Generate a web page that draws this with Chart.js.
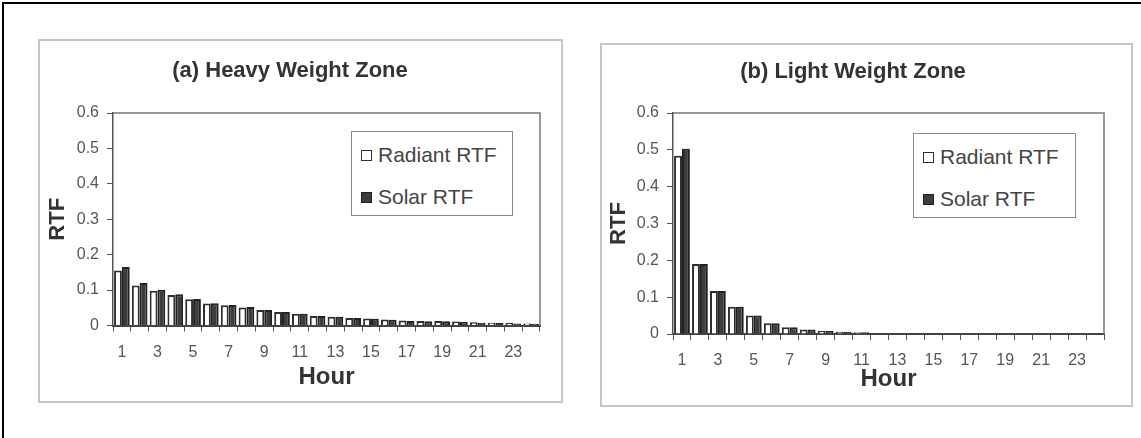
<!DOCTYPE html>
<html lang="en">
<head>
<meta charset="UTF-8">
<title>Radiant Time Factors</title>
<script src="https://cdn.jsdelivr.net/npm/chart.js"></script>
<style>
  html, body { margin: 0; padding: 0; background: #fff; }
  body { width: 1141px; height: 438px; position: relative; overflow: hidden; font-family: 'Liberation Sans', Arial, sans-serif; }
  .frame { position: absolute; left: 2px; top: 2px; right: 0; bottom: 0; border-top: 2px solid #000; border-left: 2px solid #000; }
  .panel { position: absolute; border: 2px solid #c6c6c6; background: #fff; }
  .panel canvas { display: block; }
  .legend { position: absolute; border: 1.5px solid #8a8a8a; background: #fff; box-sizing: border-box; }
  .legend .item { position: absolute; left: 9px; display: flex; align-items: center; font-size: 21px; color: #444; height: 24px; margin-top: -12px; white-space: nowrap; }
  .legend .swatch { width: 11px; height: 11px; box-sizing: border-box; border: 1.5px solid #333; margin-right: 6px; }
</style>
</head>
<body>
<div class="frame"></div>

<div class="panel" style="left:38px; top:39px;">
  <canvas id="heavyChart" width="521" height="360"></canvas>
  <div class="legend" id="heavyLegend" style="left:311px; top:90px; width:162px; height:85px;"></div>
</div>

<div class="panel" style="left:600px; top:43px;">
  <canvas id="lightChart" width="529" height="360"></canvas>
  <div class="legend" id="lightLegend" style="left:311px; top:88px; width:163px; height:85px;"></div>
</div>

<script>
// Hours after the heat gain
const hours = ['1', '2', '3', '4', '5', '6', '7', '8', '9', '10', '11', '12',
               '13', '14', '15', '16', '17', '18', '19', '20', '21', '22', '23', '24'];

// Heavy weight zone RTFs
const heavyRadiant = [0.155, 0.113, 0.098, 0.086, 0.074, 0.062, 0.057, 0.051, 0.044, 0.038, 0.033, 0.027,
                      0.025, 0.021, 0.020, 0.017, 0.014, 0.013, 0.013, 0.011, 0.009, 0.008, 0.007, 0.006];
const heavySolar   = [0.165, 0.120, 0.101, 0.088, 0.075, 0.063, 0.058, 0.052, 0.044, 0.038, 0.033, 0.027,
                      0.025, 0.021, 0.019, 0.016, 0.013, 0.012, 0.012, 0.010, 0.008, 0.007, 0.006, 0.005];

// Light weight zone RTFs
const lightRadiant = [0.484, 0.190, 0.117, 0.074, 0.050, 0.029, 0.018, 0.012, 0.008, 0.006, 0.005, 0.002,
                      0.001, 0.001, 0.001, 0.000, 0.000, 0.000, 0.000, 0.000, 0.000, 0.000, 0.000, 0.000];
const lightSolar   = [0.503, 0.190, 0.117, 0.074, 0.050, 0.029, 0.018, 0.012, 0.008, 0.006, 0.005, 0.002,
                      0.001, 0.001, 0.001, 0.000, 0.000, 0.000, 0.000, 0.000, 0.000, 0.000, 0.000, 0.000];

const yTicks = [0, 0.1, 0.2, 0.3, 0.4, 0.5, 0.6];
const seriesNames = ['Radiant RTF', 'Solar RTF'];

const FONT = "'Liberation Sans', Arial, sans-serif";

// top and right edges of the plot area
const plotFrame = {
    id: 'plotFrame',
    beforeDatasetsDraw(chart) {
        const { ctx, chartArea: a } = chart;
        ctx.save();
        ctx.strokeStyle = '#7a7a7a';
        ctx.lineWidth = 1.5;
        ctx.beginPath();
        ctx.moveTo(a.left, a.top);
        ctx.lineTo(a.right, a.top);
        ctx.lineTo(a.right, a.bottom);
        ctx.stroke();
        ctx.restore();
    }
};

function makePanel(id, legendId, title, radiant, solar, L) {
    const chart = new Chart(document.getElementById(id), {
        type: 'bar',
        data: {
            labels: hours,
            datasets: [
                { label: seriesNames[0], data: radiant, backgroundColor: '#ffffff', borderColor: '#2e2e2e', borderWidth: 2 },
                { label: seriesNames[1], data: solar, backgroundColor: '#3d3d3d', borderColor: '#222222', borderWidth: 2 }
            ]
        },
        options: {
            responsive: false,
            animation: false,
            layout: { padding: { left: 0, right: L.right, top: 0, bottom: 0 } },
            datasets: { bar: { categoryPercentage: 0.88, barPercentage: 1.0 } },
            plugins: {
                legend: { display: false },
                tooltip: { enabled: false },
                title: {
                    display: true,
                    text: title,
                    color: '#333',
                    font: { family: FONT, size: 22, weight: 'bold' },
                    padding: { top: L.titleTop, bottom: L.titleBottom }
                }
            },
            scales: {
                x: {
                    offset: true,
                    grid: { drawOnChartArea: false, drawTicks: true, tickLength: 6, color: '#555', offset: true },
                    border: { color: '#444', width: 2 },
                    ticks: {
                        autoSkip: false,
                        maxRotation: 0,
                        padding: L.xPad,
                        color: '#555',
                        font: { family: FONT, size: 16 },
                        callback(v, i) { return i % 2 === 0 ? this.getLabelForValue(v) : ''; }
                    },
                    title: {
                        display: true, text: 'Hour', color: '#333',
                        font: { family: FONT, size: 24, weight: 'bold' },
                        padding: { top: 0, bottom: L.hourPad }
                    },
                    afterFit(s) { s.height = L.xHeight; }
                },
                y: {
                    min: 0,
                    max: 0.6,
                    afterBuildTicks(s) { s.ticks = yTicks.map(v => ({ value: v })); },
                    grid: { drawOnChartArea: false, drawTicks: true, tickLength: 6, color: '#555' },
                    border: { color: '#555', width: 1.5 },
                    ticks: {
                        padding: 8,
                        color: '#555',
                        font: { family: FONT, size: 16 },
                        callback: v => String(Number(v.toFixed(1)))
                    },
                    title: {
                        display: true, text: 'RTF', color: '#333',
                        font: { family: FONT, size: 22, weight: 'bold' },
                        padding: { top: L.rtfPad, bottom: 0 }
                    },
                    afterFit(s) { s.width = L.yWidth; }
                }
            }
        },
        plugins: [plotFrame]
    });

    // legend box drawn from the dataset styles
    const box = document.getElementById(legendId);
    chart.data.datasets.forEach((ds, i) => {
        const item = document.createElement('div');
        item.className = 'item';
        item.style.top = (23 + i * 42) + 'px';
        const sw = document.createElement('span');
        sw.className = 'swatch';
        sw.style.background = ds.backgroundColor;
        sw.style.borderColor = ds.borderColor;
        item.appendChild(sw);
        item.appendChild(document.createTextNode(ds.label));
        box.appendChild(item);
    });
}

makePanel('heavyChart', 'heavyLegend', '(a) Heavy Weight Zone', heavyRadiant, heavySolar,
    { right: 21, titleTop: 17, titleBottom: 28.6, xPad: 11.5, hourPad: 9, xHeight: 75.5, yWidth: 73, rtfPad: 5 });

makePanel('lightChart', 'lightLegend', '(b) Light Weight Zone', lightRadiant, lightSolar,
    { right: 27, titleTop: 14, titleBottom: 27.6, xPad: 11, hourPad: 11, xHeight: 71, yWidth: 71, rtfPad: 4 });
</script>
</body>
</html>
